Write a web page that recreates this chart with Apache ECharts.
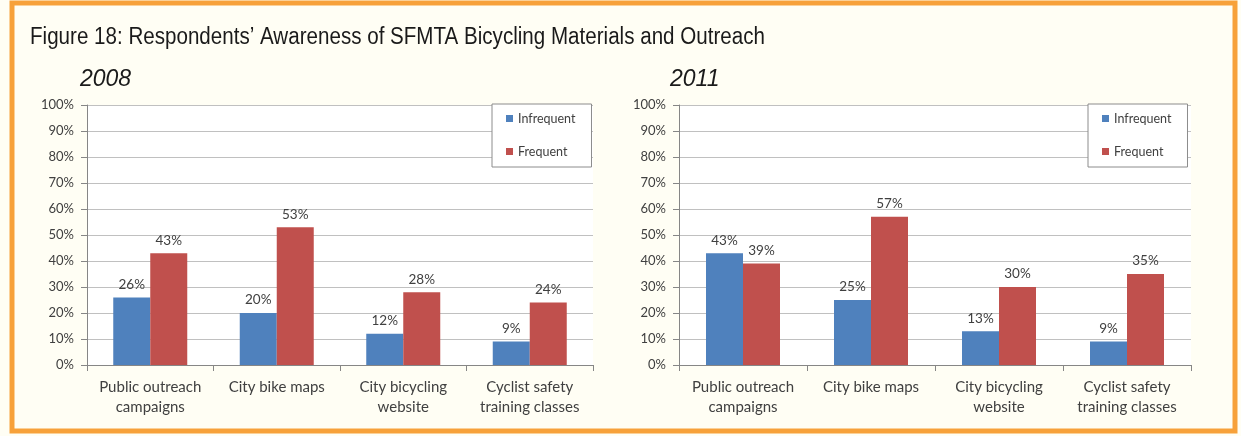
<!DOCTYPE html>
<html><head><meta charset="utf-8">
<script src="https://cdn.jsdelivr.net/npm/echarts@6/dist/echarts.min.js"></script>
<style>html,body{margin:0;padding:0;background:#fffef4;}#c{width:1241px;height:436px;}</style>
</head><body><div id="c"></div>
<script>
const categories = ['Public outreach\ncampaigns', 'City bike maps', 'City bicycling\nwebsite', 'Cyclist safety\ntraining classes'];
const infrequent2008 = [26, 20, 12, 9];
const frequent2008 = [43, 53, 28, 24];
const infrequent2011 = [43, 25, 13, 9];
const frequent2011 = [39, 57, 30, 35];
const yTicks = [0, 10, 20, 30, 40, 50, 60, 70, 80, 90, 100];

const chart = echarts.init(document.getElementById('c'));
const BLUE = '#4f81bd', RED = '#c0504d';
const lbl = {show: true, position: 'top', distance: 6, formatter: '{c}%', color: '#404040', fontFamily: 'Lato', fontSize: 13.5};
function xAx(i){return {type:'category', gridIndex:i, data:categories,
  axisLine:{lineStyle:{color:'#868686'}}, axisTick:{show:true, length:6, lineStyle:{color:'#868686'}},
  axisLabel:{color:'#404040', fontFamily:'Lato', fontSize:15, lineHeight:20, margin:12, interval:0}};}
function yAx(i){return {type:'value', gridIndex:i, min:0, max:100, interval:10,
  axisLine:{show:true, lineStyle:{color:'#868686'}}, axisTick:{show:true, length:6, lineStyle:{color:'#868686'}},
  splitLine:{lineStyle:{color:'#c0c0c0'}},
  axisLabel:{color:'#404040', fontFamily:'Lato', fontSize:13, margin:13, formatter: v => yTicks.includes(v) ? v + '%' : ''}};}
function bar(name, data, color, i){return {name, type:'bar', xAxisIndex:i, yAxisIndex:i, data,
  itemStyle:{color}, barWidth:37, barGap:'0%', label:lbl};}
function leg(left){return {left, top:104, orient:'vertical', itemWidth:7, itemHeight:7, itemGap:20,
  icon:'rect', backgroundColor:'#ffffff', borderColor:'#8c8c8c', borderWidth:1, padding:[8,16,9,14],
  textStyle:{color:'#404040', fontFamily:'Lato', fontSize:12.5}, data:['Infrequent','Frequent'], selectedMode:false};}

chart.setOption({
  animation:false,
  backgroundColor:'#fffef4',
  graphic:[
    {type:'rect', shape:{x:12, y:3, width:1223, height:428}, style:{fill:'none', stroke:'#f7a13a', lineWidth:5}, z:-1},
    {type:'rect', shape:{x:87, y:105, width:506, height:260}, style:{fill:'#ffffff'}, z:-1},
    {type:'rect', shape:{x:679, y:105, width:512, height:260}, style:{fill:'#ffffff'}, z:-1},
    {type:'text', x:30, y:26, scaleX:0.895, style:{text:'Figure 18: Respondents\u2019 Awareness of SFMTA Bicycling Materials and Outreach',
      font:'23px "Liberation Sans"', fill:'#1a1a1a'}}
  ],
  title:[
    {text:'2008', left:75, top:63, textStyle:{fontFamily:'Liberation Sans', fontStyle:'italic', fontWeight:'normal', fontSize:23, color:'#1a1a1a'}},
    {text:'2011', left:665, top:63, textStyle:{fontFamily:'Liberation Sans', fontStyle:'italic', fontWeight:'normal', fontSize:23, color:'#1a1a1a'}}
  ],
  legend:[leg(492), leg(1088)],
  grid:[{left:87, width:506, top:105, height:260}, {left:679, width:512, top:105, height:260}],
  xAxis:[xAx(0), xAx(1)],
  yAxis:[yAx(0), yAx(1)],
  series:[
    bar('Infrequent', infrequent2008, BLUE, 0), bar('Frequent', frequent2008, RED, 0),
    bar('Infrequent', infrequent2011, BLUE, 1), bar('Frequent', frequent2011, RED, 1)
  ]
});
</script></body></html>
